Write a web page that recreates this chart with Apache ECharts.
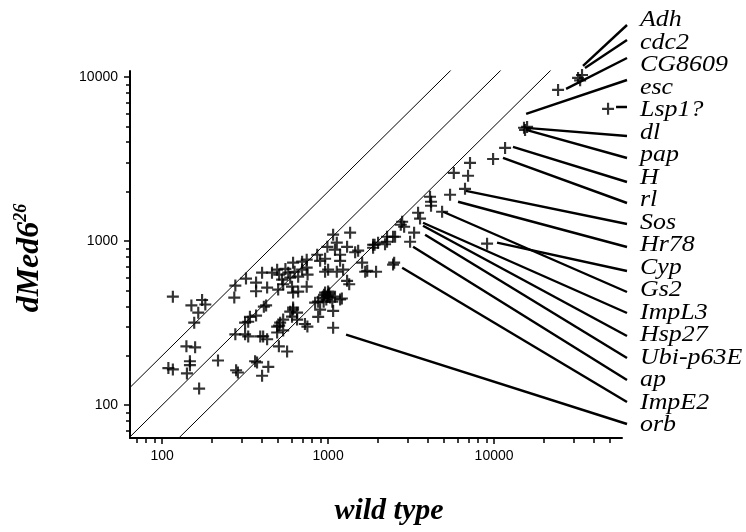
<!DOCTYPE html>
<html><head><meta charset="utf-8">
<script src="https://cdn.jsdelivr.net/npm/echarts@6/dist/echarts.min.js"></script>
<style>html,body{margin:0;padding:0;background:#fff}#c{width:746px;height:532px}</style>
</head><body><div id="c"></div>
<script>
// ---------------- DATA ----------------
const wildType = [
 116,150,174,182,165,156,140,158,147,147,109,116,141,167,217,276,272,320,368,368,429,423,368,330,276,330,406,429,493,514,493,536,505,566,606,615,650,750,835,279,286,363,436,400,373,
 400,459,493,507,528,553,536,575,591,615,628,660,697,697,743,743,752,500,606,615,660,743,860,895,959,1000,959,990,1128,1100,1181,1181,1301,1231,1128,1072,1357,1455,1517,1603,1673,1945,1866,2000,2265,2265,2463,2500,
 959,1000,990,1028,922,940,871,1100,1181,1060,895,1072,871,615,591,536,507,725,650,1072,410,338,316,316,390,1210,1301,1340,1720,1000,975,1015,945,
 1866,1905,2203,2532,2463,2793,2871,2740,3119,3297,3484,3581,4112,4170,4170,4862,5430,6683,5720,6970,7162,9865,11650,9074,15370,15810,15150,24300,32070,33880,33000,48620
];
const dMed = [
 458,405,437,410,366,318,228,225,185,175,168,165,156,126,187,535,452,590,558,494,520,405,351,322,270,262,262,252,301,318,277,285,228,212,346,382,366,301,421,163,158,185,171,151,182,
 641,641,669,624,582,676,545,641,598,738,650,606,669,748,770,688,624,506,527,485,492,527,825,757,780,669,650,922,977,886,825,757,922,669,650,1093,1124,854,873,738,650,650,949,977,990,1062,1062,738,
 485,492,458,452,452,427,427,458,440,427,382,375,345,393,371,332,305,312,332,296,398,345,318,270,262,446,572,545,658,470,440,480,470,
 910,949,955,1062,718,1310,1222,1256,990,1124,1486,1370,1861,1735,1641,1508,1913,2080,2600,2500,2992,3160,3695,963,4755,4960,4900,8340,9860,10280,9530,6390
];
const geneNames = ['Adh','cdc2','CG8609','esc','Lsp1?','dl','pap','H','rl','Sos','Hr78','Cyp','Gs2','ImpL3','Hsp27','Ubi-p63E','ap','ImpE2','orb'];
const geneWildType = [34360,35300,27160,15600,54330,15600,15600,13000,11320,6770,6070,10420,4930,3730,3730,3840,3250,2793,1283];
const geneDMed     = [11670,11350,8450,5960,6560,4890,4755,3750,3215,2023,1735,977,1508,1292,1240,1092,923,688,269];
const foldRatios = [2, 1, 0.5];
const xMajorTicks = [100, 1000, 10000];
const yMajorTicks = [100, 1000, 10000];
const xMinorTicks = [70,80,90,200,300,400,500,600,700,800,900,2000,3000,4000,5000,6000,7000,8000,9000,20000,30000,40000,50000];
const yMinorTicks = [70,80,90,200,300,400,500,600,700,800,900,2000,3000,4000,5000,6000,7000,8000,9000];
const xRange = [64, 59000];
const yRange = [63, 10870];
const xTitle = 'wild type';
const yTitle = ['dMed6', '26'];

// ---------------- LAYOUT ----------------
const LABEL_X = 640, LABEL_TOP = 20, LABEL_STEP = 22.5, LEADER_X = 627;
const leaderEndY = [25,40,58,80,107,136,158,182,203,224,247,271,292,313,336,358,380,402,424];

const chart = echarts.init(document.getElementById('c'), null, {renderer: 'canvas'});
const points = wildType.map((v, i) => [v, dMed[i]]);
const cross = 'path://M4.1,0H5.9V4.1H10V5.9H5.9V10H4.1V5.9H0V4.1H4.1Z';
const fmt = v => String(Math.round(v));
const axisCommon = {type: 'log', logBase: 10, splitLine: {show: false}};

const series = [];
foldRatios.forEach(r => {
  series.push({type: 'line', data: [[10, 10 * r], [100000, 100000 * r]], symbol: 'none', clip: true,
    lineStyle: {color: '#000', width: 1}, silent: true, z: 2});
});
series.push({type: 'scatter', data: points, symbol: cross, symbolSize: 12,
  itemStyle: {color: '#000'}, z: 3, silent: true});
series.push({type: 'custom', data: geneWildType.map((v, i) => [v, geneDMed[i]]), clip: false, z: 4, silent: true,
  renderItem: function (params, api) {
    const i = params.dataIndex;
    const p = api.coord([api.value(0), api.value(1)]);
    return {type: 'group', children: [
      {type: 'line', shape: {x1: p[0], y1: p[1], x2: LEADER_X, y2: leaderEndY[i]},
        style: {stroke: '#000', lineWidth: 2.4}},
      {type: 'text', x: LABEL_X, y: LABEL_TOP + LABEL_STEP * i, scaleX: 1.08,
        style: {text: geneNames[i], fontFamily: 'Liberation Serif', fontStyle: 'italic', fontSize: 24,
          fill: '#000', align: 'left', verticalAlign: 'middle'}}
    ]};
  }});

chart.setOption({
  animation: false,
  backgroundColor: '#fff',
  grid: {left: 130, top: 71, width: 492, height: 367},
  xAxis: [
    Object.assign({}, axisCommon, {min: xRange[0], max: xRange[1], position: 'bottom',
      axisLine: {show: true, lineStyle: {color: '#000', width: 2}},
      axisTick: {show: true, customValues: xMajorTicks, length: 6, lineStyle: {color: '#000', width: 1.5}},
      axisLabel: {customValues: xMajorTicks, formatter: fmt, margin: 11, color: '#000', fontFamily: 'Liberation Sans', fontSize: 14}}),
    Object.assign({}, axisCommon, {min: xRange[0], max: xRange[1], position: 'bottom', gridIndex: 0,
      axisLine: {show: false},
      axisTick: {show: true, customValues: xMinorTicks, length: 5, lineStyle: {color: '#000', width: 1.5}},
      axisLabel: {show: false}})
  ],
  yAxis: [
    Object.assign({}, axisCommon, {min: yRange[0], max: yRange[1], position: 'left',
      axisLine: {show: true, lineStyle: {color: '#000', width: 2}},
      axisTick: {show: true, customValues: yMajorTicks, length: 6, lineStyle: {color: '#000', width: 1.5}},
      axisLabel: {customValues: yMajorTicks, formatter: fmt, margin: 12, color: '#000', fontFamily: 'Liberation Sans', fontSize: 14}}),
    Object.assign({}, axisCommon, {min: yRange[0], max: yRange[1], position: 'left', gridIndex: 0,
      axisLine: {show: false},
      axisTick: {show: true, customValues: yMinorTicks, length: 4, lineStyle: {color: '#000', width: 1.5}},
      axisLabel: {show: false}})
  ],
  series: series,
  graphic: [
    {type: 'text', x: 389, y: 511, style: {text: xTitle, fontFamily: 'Liberation Serif', fontStyle: 'italic', fontWeight: 'bold',
      fontSize: 30, fill: '#000', align: 'center', verticalAlign: 'middle'}},
    {type: 'text', x: 30, y: 258, rotation: Math.PI / 2, style: {text: '{a|' + yTitle[0] + '}{b|' + yTitle[1] + '}',
      align: 'center', verticalAlign: 'middle',
      rich: {a: {fontFamily: 'Liberation Serif', fontStyle: 'italic', fontWeight: 'bold', fontSize: 32, lineHeight: 36, fill: '#000', color: '#000'},
             b: {fontFamily: 'Liberation Serif', fontStyle: 'italic', fontWeight: 'bold', fontSize: 18, lineHeight: 20, verticalAlign: 'top', fill: '#000', color: '#000'}}}}
  ]
});
</script></body></html>
